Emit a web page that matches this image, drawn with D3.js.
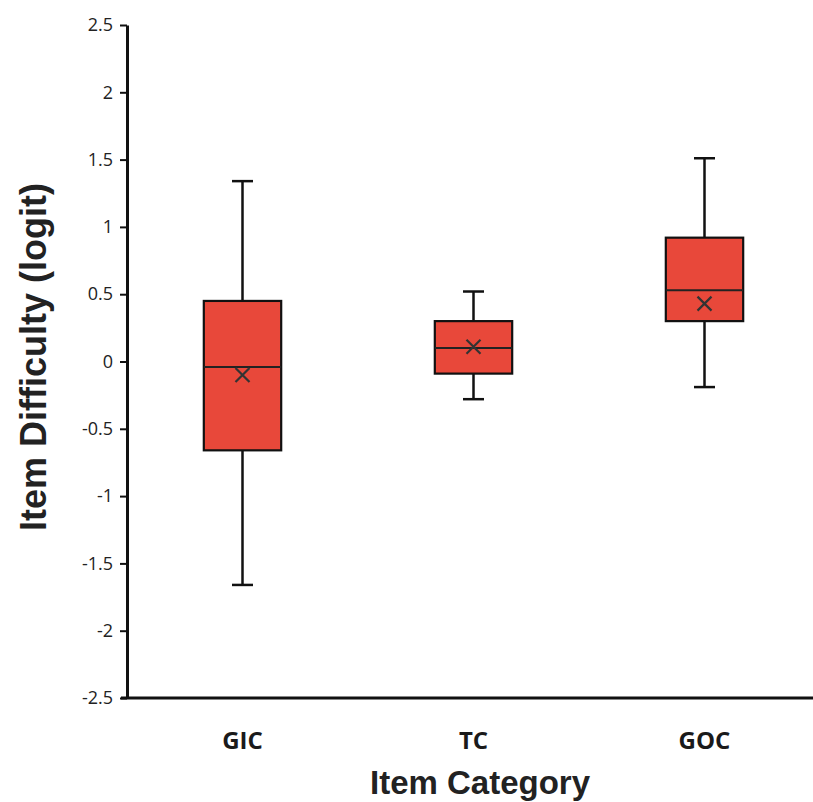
<!DOCTYPE html>
<html>
<head>
<meta charset="utf-8">
<script src="https://cdn.jsdelivr.net/npm/d3@7/dist/d3.min.js"></script>
<style>
  html, body { margin: 0; padding: 0; background: #fff; }
  svg { display: block; }
</style>
</head>
<body>
<svg id="chart" width="813" height="802"></svg>
<script>
// ---- data ----
const categories = ["GIC", "TC", "GOC"];
const whiskerMin = [-1.66, -0.28, -0.19];
const q1Values   = [-0.66, -0.09, 0.30];
const medians    = [-0.04, 0.10, 0.53];
const q3Values   = [0.45, 0.30, 0.92];
const whiskerMax = [1.34, 0.52, 1.51];
const means      = [-0.10, 0.11, 0.43];
const yTicks     = [2.5, 2, 1.5, 1, 0.5, 0, -0.5, -1, -1.5, -2, -2.5];

const rows = categories.map((c, i) => ({
  cat: c, min: whiskerMin[i], q1: q1Values[i], med: medians[i],
  q3: q3Values[i], max: whiskerMax[i], mean: means[i]
}));

const svg = d3.select("#chart");
const mLeft = 127, mRight = 820, mTop = 25, mBottom = 698;

const x = d3.scaleBand().domain(categories).range([mLeft, mRight]);
const y = d3.scaleLinear().domain([-2.5, 2.5]).range([mBottom, mTop]);

const boxColor = "#e8483a";
const boxW = x.bandwidth() * 0.335;
const capW = 21;

// y axis
const yAxis = d3.axisLeft(y).tickValues(yTicks).tickSize(7).tickSizeOuter(0)
  .tickFormat(d => String(d));
const gy = svg.append("g").attr("transform", `translate(${mLeft},0)`).call(yAxis);
gy.select(".domain").attr("stroke", "#111").attr("stroke-width", 3);
gy.selectAll(".tick line").attr("stroke", "#111").attr("stroke-width", 2);
gy.selectAll(".tick text").attr("font-family", "'Open Sans', sans-serif")
  .attr("font-size", 18).attr("fill", "#222").attr("x", -14);

// x axis line
svg.append("line").attr("x1", mLeft - 6).attr("x2", 813)
  .attr("y1", y(-2.5)).attr("y2", y(-2.5))
  .attr("stroke", "#111").attr("stroke-width", 3);

// category labels
svg.append("g").selectAll("text").data(categories).join("text")
  .attr("x", d => x(d) + x.bandwidth() / 2)
  .attr("y", 749)
  .attr("text-anchor", "middle")
  .attr("font-family", "'Open Sans', sans-serif")
  .attr("font-weight", "bold")
  .attr("font-size", 24)
  .attr("fill", "#1a1a1a")
  .text(d => d);

// boxes
const g = svg.append("g").selectAll("g").data(rows).join("g")
  .attr("transform", d => `translate(${x(d.cat) + x.bandwidth() / 2},0)`);

// whiskers
g.append("line").attr("x1", 0).attr("x2", 0)
  .attr("y1", d => y(d.max)).attr("y2", d => y(d.q3))
  .attr("stroke", "#111").attr("stroke-width", 2.5);
g.append("line").attr("x1", 0).attr("x2", 0)
  .attr("y1", d => y(d.q1)).attr("y2", d => y(d.min))
  .attr("stroke", "#111").attr("stroke-width", 2.5);
g.append("line").attr("x1", -capW / 2).attr("x2", capW / 2)
  .attr("y1", d => y(d.max)).attr("y2", d => y(d.max))
  .attr("stroke", "#111").attr("stroke-width", 2.5);
g.append("line").attr("x1", -capW / 2).attr("x2", capW / 2)
  .attr("y1", d => y(d.min)).attr("y2", d => y(d.min))
  .attr("stroke", "#111").attr("stroke-width", 2.5);

// box
g.append("rect").attr("x", -boxW / 2).attr("width", boxW)
  .attr("y", d => y(d.q3)).attr("height", d => y(d.q1) - y(d.q3))
  .attr("fill", boxColor).attr("stroke", "#111").attr("stroke-width", 2.2);

// median
g.append("line").attr("x1", -boxW / 2).attr("x2", boxW / 2)
  .attr("y1", d => y(d.med)).attr("y2", d => y(d.med))
  .attr("stroke", "#222").attr("stroke-width", 2);

// mean X marker
const mk = 7;
g.append("path")
  .attr("d", d => {
    const cy = y(d.mean);
    return `M${-mk},${cy - mk}L${mk},${cy + mk}M${-mk},${cy + mk}L${mk},${cy - mk}`;
  })
  .attr("stroke", "#333").attr("stroke-width", 2.2).attr("fill", "none");

// axis titles
svg.append("text")
  .attr("transform", `translate(46,357) rotate(-90)`)
  .attr("text-anchor", "middle")
  .attr("font-family", "'Liberation Sans', Arial, sans-serif")
  .attr("font-weight", "bold")
  .attr("font-size", 36)
  .attr("fill", "#222")
  .text("Item Difficulty (logit)");

svg.append("text")
  .attr("x", 480).attr("y", 794)
  .attr("text-anchor", "middle")
  .attr("font-family", "'Liberation Sans', Arial, sans-serif")
  .attr("font-weight", "bold")
  .attr("font-size", 33)
  .attr("fill", "#222")
  .text("Item Category");
</script>
</body>
</html>
